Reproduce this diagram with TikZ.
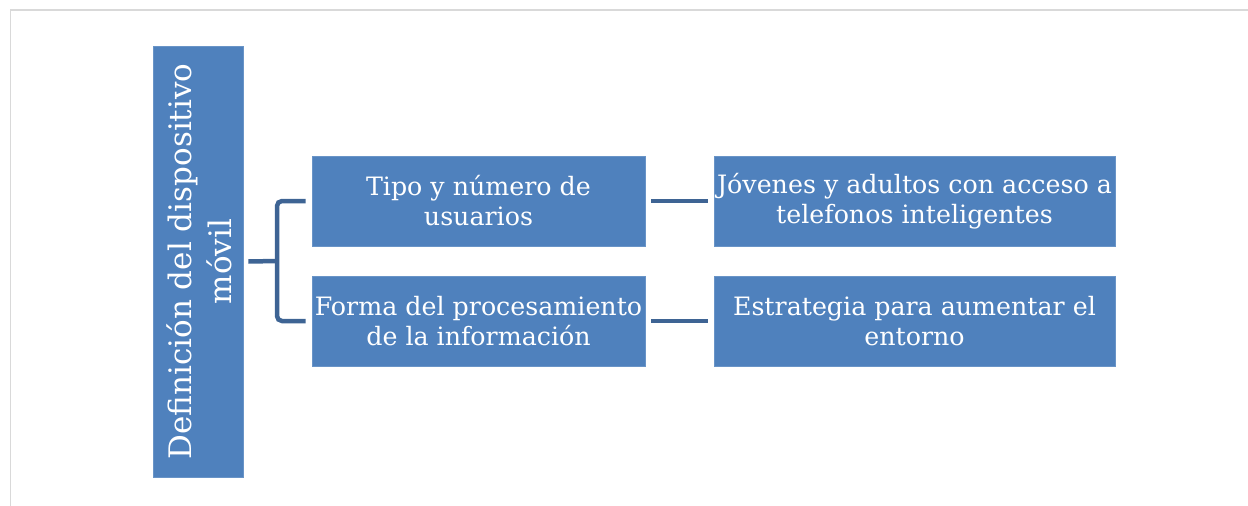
\documentclass[tikz,border=0pt]{standalone}
\usepackage{fontspec}
\setmainfont{DejaVu Serif}
\definecolor{boxblue}{RGB}{79,129,189}
\definecolor{connblue}{RGB}{62,100,148}
\definecolor{framegray}{RGB}{217,217,217}
\begin{document}
\begin{tikzpicture}[x=1pt,y=-1pt,
  box/.style={draw=boxblue!85!white, line width=0.6pt, fill=boxblue, text=white, align=center, inner sep=2pt},
  leafbox/.style={box, minimum height=90pt, font=\fontsize{25.3}{30}\selectfont},
  conn/.style={draw=connblue, line width=4.5pt},
  frameline/.style={draw=framegray, line width=1.8pt}]
\useasboundingbox (0,0) rectangle (1248,506);
% frame
\coordinate (ftl) at (10.5,9.8);
\coordinate (ftr) at (1248,9.8);
\coordinate (fbl) at (10.5,506);
\draw[frameline] (ftr) -- (ftl) -- (fbl);
% root
\node[box, minimum width=90pt, minimum height=431pt] (root) at (198,261.5) {};
\node[rotate=90, text=white, align=center, inner sep=0pt, font=\fontsize{31}{40}\selectfont] (rootlabel) at ([xshift=1pt]root.center) {Definición del dispositivo\\móvil};
% level 1
\node[leafbox, minimum width=333pt] (a) at (478.5,201) {Tipo y número de\\usuarios};
\node[leafbox, minimum width=333pt] (b) at (478.5,321) {Forma del procesamiento\\de la información};
% level 2
\node[leafbox, minimum width=401pt] (c) at (914.5,201) {Jóvenes y adultos con acceso a\\telefonos inteligentes};
\node[leafbox, minimum width=401pt] (d) at (914.5,321) {Estrategia para aumentar el\\entorno};
% connectors
\coordinate (j) at (277,261);
\draw[conn] ([xshift=5pt]root.east) -- (j);
\draw[conn, rounded corners=5pt] ([xshift=-6pt]a.west) -| (j) |- ([xshift=-6pt]b.west);
\draw[conn] ([xshift=6pt]a.east) -- ([xshift=-6pt]c.west);
\draw[conn] ([xshift=6pt]b.east) -- ([xshift=-6pt]d.west);
\end{tikzpicture}
\end{document}
